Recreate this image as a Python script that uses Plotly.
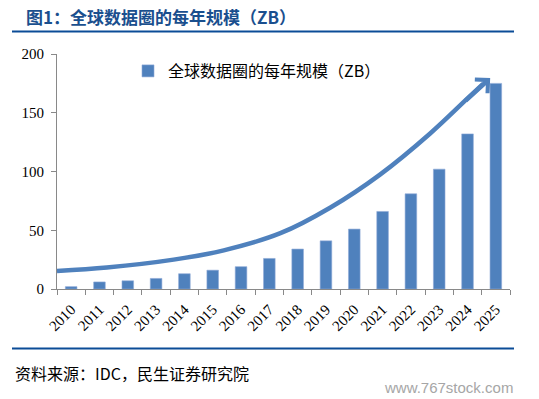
import plotly.graph_objects as go

years = ["2010", "2011", "2012", "2013", "2014", "2015", "2016", "2017",
         "2018", "2019", "2020", "2021", "2022", "2023", "2024", "2025"]
values = [2, 6, 7, 9, 13, 16, 19, 26, 34, 41, 51, 66, 81, 102, 132, 175]
series_name = "全球数据圈的每年规模（ZB）"
y_ticks = [0, 50, 100, 150, 200]

# decorative trend arrow (category-index position, value)
curve_x = [-0.5, 1.26, 3.62, 5.39, 7.39, 9.16, 10.92, 12.69, 13.99, 14.55]
curve_y = [15.4, 18.3, 25.0, 32.9, 47.5, 69.4, 97.6, 132.6, 162.0, 174.5]
arrow_tip = (14.8, 179.5)

title_text = "图1：全球数据圈的每年规模（ZB）"
source_text = "资料来源：IDC，民生证券研究院"
watermark = "www.767stock.com"

BAR = "#4F81BD"
AXIS = "#898989"
NAVY = "#0B4C97"
CJK = "Noto Sans CJK SC"
SERIF = "Liberation Serif"

# page body margin is removed below (post_script), so figure = window
W, H = 539, 399
PL, PR, PT, PB = 57, 510, 54, 289          # plot area in reference pixels
L, T = PL, PT
R, B = W - PR, H - PB
pw, ph = W - L - R, H - T - B


def px(xp):
    return (xp - PL) / pw


def py(yp):
    return (PB - yp) / ph


fig = go.Figure()
fig.add_trace(go.Bar(
    x=years, y=values, name=series_name,
    marker=dict(color=BAR, line=dict(color="#8EAAD6", width=0.6)),
    showlegend=True,
))
fig.add_trace(go.Scatter(
    x=curve_x, y=curve_y, xaxis="x2", yaxis="y", mode="lines",
    line=dict(color=BAR, width=4.5, shape="spline", smoothing=1.0),
    showlegend=False, hoverinfo="skip",
))

fig.add_annotation(
    x=arrow_tip[0], y=arrow_tip[1], xref="x2", yref="y",
    ax=-26, ay=24, axref="pixel", ayref="pixel",
    showarrow=True, arrowhead=4, arrowwidth=4.5, arrowsize=0.8,
    arrowcolor=BAR, text="", standoff=0,
)

fig.update_layout(
    width=W, height=H,
    margin=dict(l=L, r=R, t=T, b=B, autoexpand=False),
    paper_bgcolor="white", plot_bgcolor="white",
    bargap=0.59,
    font=dict(family=SERIF, size=15, color="black"),
    xaxis=dict(
        type="category", range=[-0.5, 15.5],
        showline=True, linecolor=AXIS, linewidth=1,
        ticks="outside", ticklen=5, tickcolor=AXIS, tickson="boundaries",
        tickangle=-45, ticklabelstandoff=5,
        tickfont=dict(family=SERIF, size=15, color="black"),
        showgrid=False, zeroline=False, fixedrange=True,
    ),
    xaxis2=dict(
        overlaying="x", range=[-0.5, 15.5], visible=True,
        showticklabels=False, showline=False, ticks="",
        showgrid=False, zeroline=False,
    ),
    yaxis=dict(
        range=[0, 200], tickvals=y_ticks,
        showline=True, linecolor=AXIS, linewidth=1,
        ticks="outside", ticklen=5, tickcolor=AXIS, ticklabelstandoff=4,
        tickfont=dict(family=SERIF, size=15, color="black"),
        showgrid=False, zeroline=False,
    ),
    legend=dict(
        x=px(128), y=py(71), xanchor="left", yanchor="middle",
        font=dict(family=CJK, size=16, color="black"),
        itemwidth=30, bgcolor="rgba(0,0,0,0)",
    ),
    shapes=[
        dict(type="line", xref="paper", yref="paper",
             x0=px(12), x1=px(514), y0=py(31.5), y1=py(31.5),
             line=dict(color=NAVY, width=2.2)),
        dict(type="line", xref="paper", yref="paper",
             x0=px(12), x1=px(514), y0=py(348.5), y1=py(348.5),
             line=dict(color=NAVY, width=2.2)),
    ],
)

fig.add_annotation(
    text="<b>" + title_text + "</b>", xref="paper", yref="paper",
    x=px(25), y=py(16.5), xanchor="left", yanchor="middle", showarrow=False,
    font=dict(family=CJK, size=17, color="#1A4F8E"), borderpad=0,
)
fig.add_annotation(
    text=source_text, xref="paper", yref="paper",
    x=px(13), y=py(373), xanchor="left", yanchor="middle", showarrow=False,
    font=dict(family=CJK, size=16, color="black"),
)
fig.add_annotation(
    text=watermark, xref="paper", yref="paper",
    x=px(515), y=py(387), xanchor="right", yanchor="middle", showarrow=False,
    font=dict(family="Liberation Sans", size=15, color="#A6A6A6"),
)

fig.write_html(
    "out.html",
    config={"displayModeBar": False},
    post_script="document.body.style.margin='0';document.body.style.overflow='hidden';",
)
